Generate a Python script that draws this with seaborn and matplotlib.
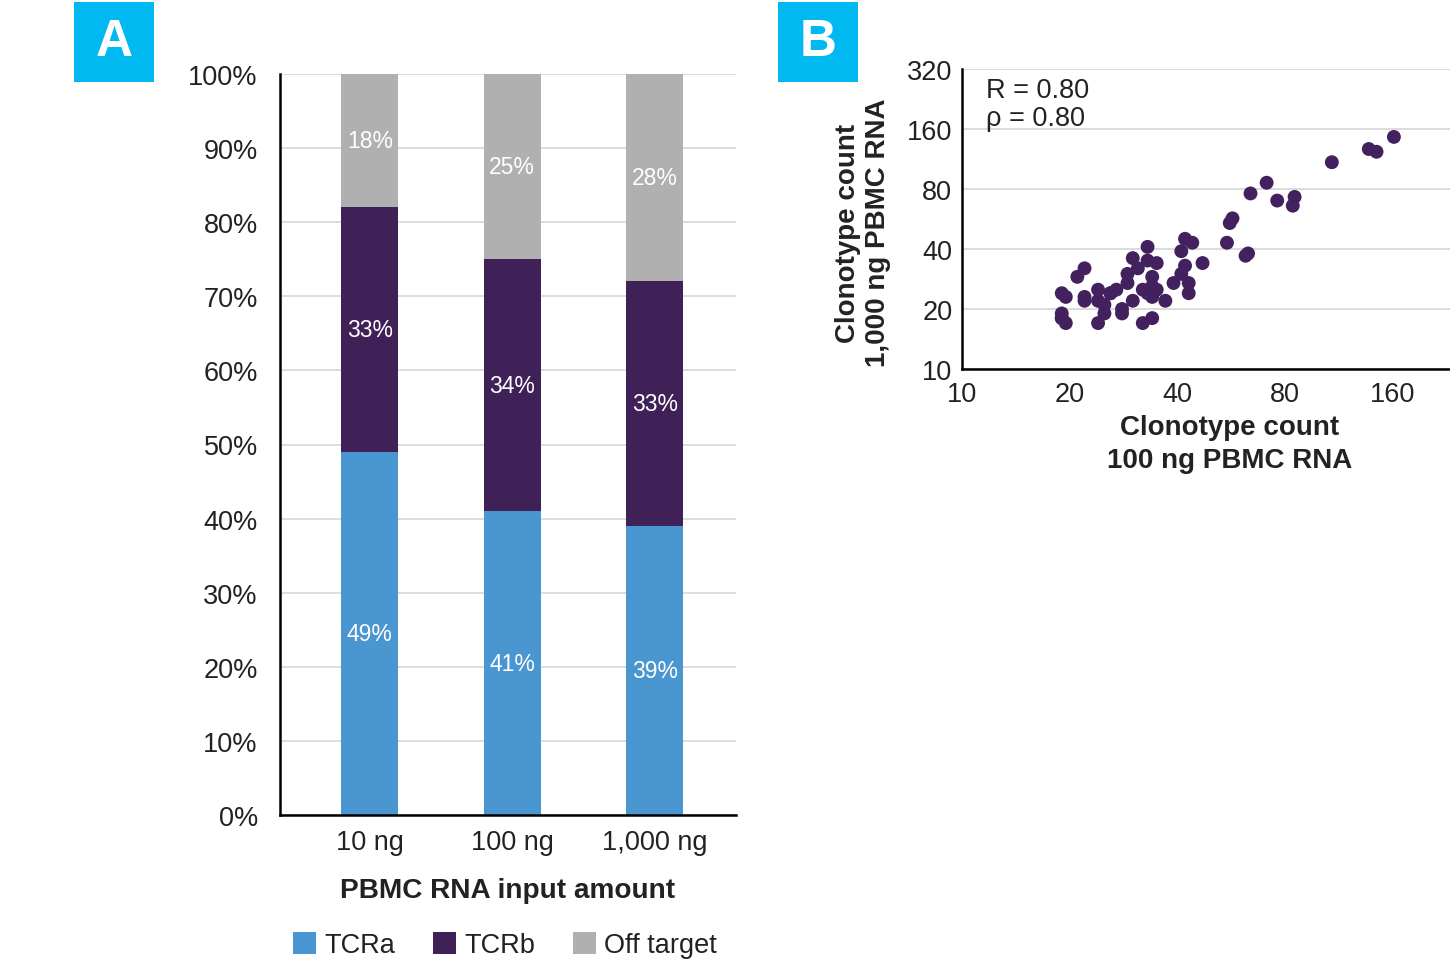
import matplotlib
matplotlib.use("Agg")
import matplotlib.pyplot as plt
import seaborn as sns
import pandas as pd
import numpy as np
from matplotlib.patches import Patch, Rectangle

# ---------------- data ----------------
inputs = ["10 ng", "100 ng", "1,000 ng"]
tcra = [49, 41, 39]
tcrb = [33, 34, 33]
off_target = [18, 25, 28]
series_names = ["TCRa", "TCRb", "Off target"]

y_ticks_a = [0, 10, 20, 30, 40, 50, 60, 70, 80, 90, 100]

clon_100ng = [161, 137, 144, 108, 71, 64, 76, 85, 84, 57, 56, 55, 63, 62, 42, 44, 41, 33, 30, 33,
              35, 47, 42, 31, 29, 41, 34, 22, 21, 29, 34, 39, 43, 43, 19, 19.5, 22, 22, 24, 27,
              26, 24, 25, 32, 33, 35, 34, 30, 37, 28, 28, 25, 19, 19, 19, 19.5, 24, 32, 34, 26]
clon_1000ng = [146, 127, 123, 109, 86, 76, 70, 73, 66, 57, 54, 43, 38, 37, 45, 43, 39, 41, 36, 35,
               34, 34, 33, 32, 30, 30, 29, 32, 29, 27, 26, 27, 27, 24, 24, 23, 23, 22, 25, 25,
               24, 22, 21, 25, 24, 25, 23, 22, 22, 20, 19, 19, 18, 19, 18, 17, 17, 17, 18, 24]
log_ticks = [10, 20, 40, 80, 160]
log_ticks_y = [10, 20, 40, 80, 160, 320]
r_text = "R = 0.80"
rho_text = "\u03c1 = 0.80"

# ---------------- style ----------------
sns.set_theme(style="white")
plt.rcParams["font.family"] = ["Liberation Sans", "DejaVu Sans"]

c_a = "#4A96D0"
c_b = "#3F2158"
c_off = "#B0B0B0"
c_pt = "#43205E"
c_box = "#00B9F1"
grid_c = "#D9D9D9"
txt_c = "#222222"
fs = 19.5

fig = plt.figure(figsize=(14.5, 9.62), dpi=100)

# ---------------- panel A ----------------
axA = fig.add_axes([280/1450, 1-816/962, (736-280)/1450, (816-75)/962])
df = pd.DataFrame({"input": inputs, "TCRa": tcra, "TCRb": tcrb, "Off": off_target})
df["top_b"] = df["TCRa"] + df["TCRb"]
df["top_off"] = df["top_b"] + df["Off"]

for col, colr in [("top_off", c_off), ("top_b", c_b), ("TCRa", c_a)]:
    sns.barplot(data=df, x="input", y=col, color=colr, width=0.4, ax=axA,
                saturation=1, edgecolor="none", linewidth=0, zorder=2)

axA.set_xlim(-0.63, 2.57)
axA.set_ylim(0, 100)
axA.set_yticks(y_ticks_a)
axA.set_yticklabels([f"{v}%" for v in y_ticks_a], fontsize=fs, color=txt_c)
axA.set_xticks(range(len(inputs)))
axA.set_xticklabels(inputs, fontsize=fs, color=txt_c)
axA.tick_params(axis="y", length=0, pad=16)
axA.tick_params(axis="x", length=0, pad=10)
axA.yaxis.grid(True, color=grid_c, linewidth=1.3, zorder=0)
axA.set_axisbelow(True)
for s in ["top", "right"]:
    axA.spines[s].set_visible(False)
for s in ["left", "bottom"]:
    axA.spines[s].set_color("black")
    axA.spines[s].set_linewidth(1.8)
axA.set_ylabel("")
axA.set_xlabel("PBMC RNA input amount", fontsize=20.2, fontweight="bold", color=txt_c, labelpad=16)

lab_font = ["Liberation Sans Narrow", "Liberation Sans", "DejaVu Sans"]
for i in range(len(inputs)):
    bounds = [(0, tcra[i]), (tcra[i], tcra[i] + tcrb[i]), (tcra[i] + tcrb[i], 100)]
    vals = [tcra[i], tcrb[i], off_target[i]]
    for (lo, hi), v in zip(bounds, vals):
        axA.text(i, (lo + hi) / 2, f"{v}%", ha="center", va="center", color="white",
                 fontsize=16.5, family=lab_font, zorder=5)

handles = [Patch(facecolor=c, edgecolor="none") for c in [c_a, c_b, c_off]]
fig.legend(handles, series_names, loc="center", bbox_to_anchor=(505/1450, 1-946/962),
           ncol=3, frameon=False, fontsize=fs, handlelength=0.85, handleheight=0.85,
           handletextpad=0.3, columnspacing=1.4, labelcolor=txt_c)

# ---------------- panel B ----------------
axB = fig.add_axes([962/1450, 1-370/962, (1450-962)/1450, 300/962])
dfs = pd.DataFrame({"x": clon_100ng, "y": clon_1000ng})
sns.scatterplot(data=dfs, x="x", y="y", ax=axB, color=c_pt, s=100, edgecolor="none", zorder=3)
axB.set_xscale("log", base=2)
axB.set_yscale("log", base=2)
axB.set_xlim(10, 231)
axB.set_ylim(10, 320)
axB.set_xticks(log_ticks)
axB.set_xticklabels([str(v) for v in log_ticks], fontsize=fs, color=txt_c)
axB.set_yticks(log_ticks_y)
axB.set_yticklabels([str(v) for v in log_ticks_y], fontsize=fs, color=txt_c)
axB.minorticks_off()
axB.tick_params(axis="both", length=0)
axB.tick_params(axis="y", pad=7)
axB.tick_params(axis="x", pad=9)
axB.yaxis.grid(True, color=grid_c, linewidth=1.3, zorder=0)
axB.set_axisbelow(True)
for s in ["top", "right"]:
    axB.spines[s].set_visible(False)
for s in ["left", "bottom"]:
    axB.spines[s].set_color("black")
    axB.spines[s].set_linewidth(1.8)
axB.set_xlabel("Clonotype count\n100 ng PBMC RNA", fontsize=20, fontweight="bold",
               color=txt_c, linespacing=1.35)
axB.xaxis.set_label_coords((1230-962)/488, -(415-370)/300, transform=axB.transAxes)
axB.xaxis.label.set_va("top")
axB.set_ylabel("Clonotype count\n1,000 ng PBMC RNA", fontsize=20, fontweight="bold",
               color=txt_c, linespacing=1.2)
axB.yaxis.set_label_coords(-(962-891)/488, (370-233)/300, transform=axB.transAxes)
axB.text(0.05, 0.93, r_text, transform=axB.transAxes, fontsize=fs, color=txt_c, va="center")
axB.text(0.05, 0.835, rho_text, transform=axB.transAxes, fontsize=fs, color=txt_c, va="center")

# ---------------- panel tags ----------------
for x0, letter in [(74, "A"), (778, "B")]:
    fig.patches.append(Rectangle((x0/1450, 1-83/962), 80/1450, 80/962,
                                 transform=fig.transFigure, facecolor=c_box,
                                 edgecolor="none"))
    fig.text((x0+40)/1450, 1-43/962, letter, ha="center", va="center", color="white",
             fontsize=37, fontweight="bold")

fig.savefig("out.png", dpi=100)
